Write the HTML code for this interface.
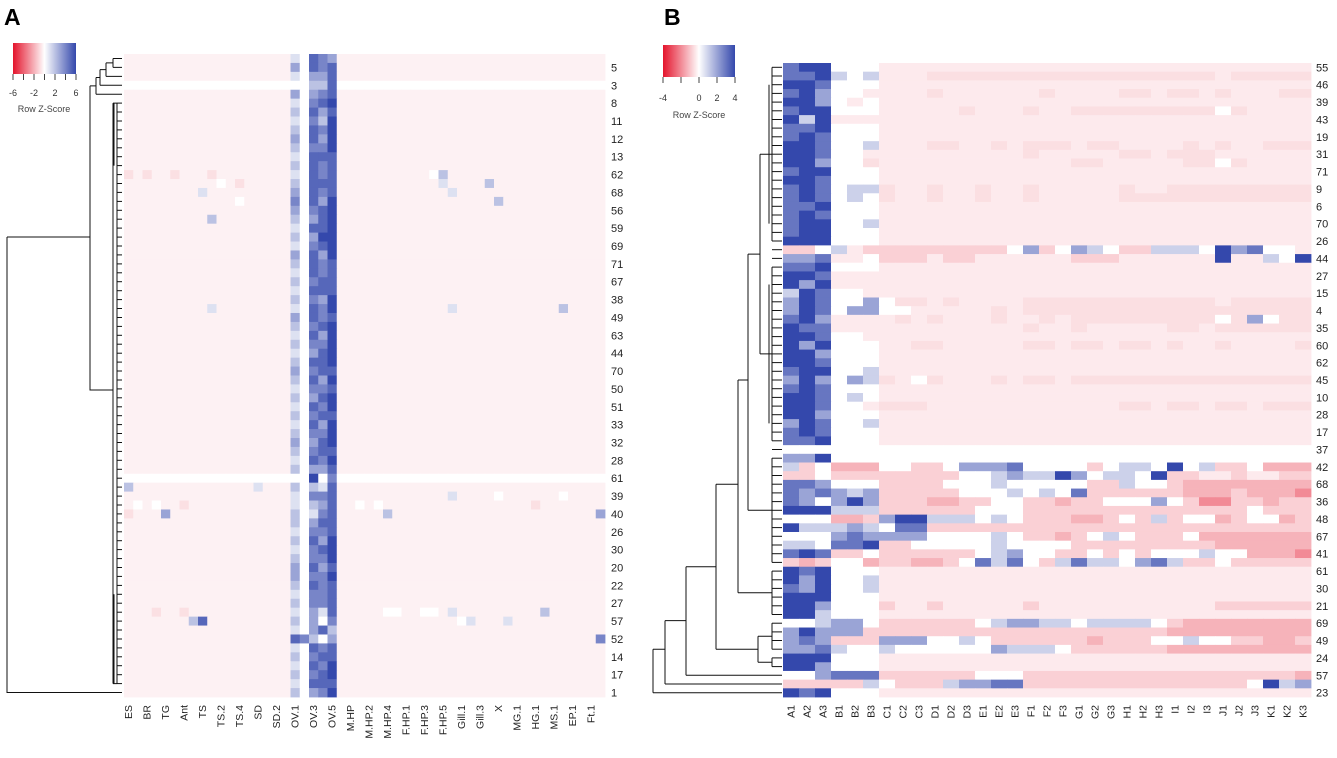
<!DOCTYPE html>
<html><head><meta charset="utf-8"><style>
html,body{margin:0;padding:0;background:#fff;}
svg{display:block;font-family:"Liberation Sans",Arial,sans-serif;}
</style></head><body>
<svg id="fig" width="1337" height="758" viewBox="0 0 1337 758" xmlns="http://www.w3.org/2000/svg">
<defs>
<linearGradient id="gz" x1="0" x2="1" y1="0" y2="0">
<stop offset="0" stop-color="#e4142c"/><stop offset="0.5" stop-color="#ffffff"/><stop offset="1" stop-color="#3448ac"/>
</linearGradient>
</defs>
<text x="4" y="25" font-size="23" font-weight="bold">A</text>
<text x="664" y="25" font-size="23" font-weight="bold">B</text>
<g>
<rect x="13" y="43" width="63" height="31" fill="url(#gz)"/>
<path d="M13 74V80M23.5 74V80M34 74V80M44.5 74V80M55 74V80M65.5 74V80M76 74V80" stroke="#444" stroke-width="1"/>
<text x="13" y="96" font-size="9" text-anchor="middle" fill="#333">-6</text>
<text x="34" y="96" font-size="9" text-anchor="middle" fill="#333">-2</text>
<text x="55" y="96" font-size="9" text-anchor="middle" fill="#333">2</text>
<text x="76" y="96" font-size="9" text-anchor="middle" fill="#333">6</text>
<text x="44" y="112" font-size="9" text-anchor="middle" fill="#444">Row Z-Score</text>
</g>
<g>
<rect x="663" y="45" width="72" height="32" fill="url(#gz)"/>
<path d="M663 77V83M681 77V83M699 77V83M717 77V83M735 77V83" stroke="#444" stroke-width="1"/>
<text x="663" y="101" font-size="9" text-anchor="middle" fill="#333">-4</text>
<text x="699" y="101" font-size="9" text-anchor="middle" fill="#333">0</text>
<text x="717" y="101" font-size="9" text-anchor="middle" fill="#333">2</text>
<text x="735" y="101" font-size="9" text-anchor="middle" fill="#333">4</text>
<text x="699" y="118" font-size="9" text-anchor="middle" fill="#444">Row Z-Score</text>
</g>
<g id="heatA"></g>
<g id="heatB"></g>
<g id="dendA"></g>
<g id="dendB"></g>
<g id="labs"></g>
</svg>
<script>
// ---- Panel A data ----
const aColLabels = ["ES","BR","TG","Ant","TS","TS.2","TS.4","SD","SD.2","OV.1","OV.3","OV.5","M.HP","M.HP.2","M.HP.4","F.HP.1","F.HP.3","F.HP.5","Gill.1","Gill.3","X","MG.1","HG.1","MS.1","EP.1","Ft.1"];
const aRowLabels = ["5","3","8","11","12","13","62","68","56","59","69","71","67","38","49","63","44","70","50","51","33","32","28","61","39","40","26","30","20","22","27","57","52","14","17","1"];
const aNumCols = 52;
const aOVStart = 18;
const aBaseCode = "o";
const aWhiteRows = [3,47];
const aOV = ["1w543","3w545","1w335","ww225","3w345","1w456","2w535","1w426","2w546","3w536","2w446","1w555","2w545","1w545","2w555","3w545","4w536","3w456","2w356","1w556","2w366","1w456","3w536","2w545","1w545","2w455","1w555","2w436","1w546","3w545","2w456","1w536","2w446","1w356","2w556","3w455","2w536","1w445","2w356","1w546","2w455","1w536","2w446","3w356","2w455","1w546","2w335","ww6w4","2w215","1w445","1w235","2w145","2w355","1w445","2w536","1w456","2w446","3w535","3w446","2w545","1w445","2w445","1w315","2w3w4","1w352","542w3","1w545","2w455","1w546","2w456","1w555","2w346"];
const aExtraRows = [13,13,13,13,14,14,13,13,14,14,15,15,16,16,18,28,28,28,48,48,49,49,49,50,50,50,50,50,50,51,51,51,51,62,62,62,62,62,62,62,62,63,63,63,63,63,65];
const aExtraCols = [0,2,5,9,10,12,33,34,34,39,8,35,12,40,9,9,35,47,0,14,35,47,40,1,3,6,25,27,44,0,4,28,51,32,33,35,28,29,3,6,45,7,8,37,41,36,51];
const aExtraVals = "ppppwpw21211w22112211wwwwpwwpp323ww1wwpp22511w4";
// ---- Panel B data ----
const bColLabels = ["A1","A2","A3","B1","B2","B3","C1","C2","C3","D1","D2","D3","E1","E2","E3","F1","F2","F3","G1","G2","G3","H1","H2","H3","I1","I2","I3","J1","J2","J3","K1","K2","K3"];
const bRowLabels = ["55","46","39","43","19","31","71","9","6","70","26","44","27","15","4","35","60","62","45","10","28","17","37","42","68","36","48","67","41","61","30","21","69","49","24","57","23"];
const bValues = [
"344 www ooo ooo ooo ooo ooo ooo ooo ooo ooo",
"334 1w1 ooo nnn nnn nnn nnn nnn nnn onn nnn",
"443 www ooo ooo ooo ooo ooo ooo ooo ooo ooo",
"342 wwo ooo noo ooo ono ooo nno nno noo onn",
"442 wow ooo ooo ooo ooo ooo ooo ooo ooo ooo",
"344 www ooo oon ooo noo nnn nnn nnn wno ooo",
"414 ooo ooo ooo ooo ooo ooo ooo ooo ooo ooo",
"334 www ooo ooo ooo ooo ooo ooo ooo ooo ooo",
"343 www ooo ooo ooo ooo ooo ooo ooo ooo ooo",
"443 ww1 ooo nno ono nnn onn ooo ono noo nnn",
"443 wwo ooo ooo ooo noo ooo nno nnn ooo ooo",
"442 wwn ooo ooo ooo ooo nno ooo onn wno ooo",
"344 www ooo ooo ooo ooo ooo ooo ooo ooo ooo",
"443 www ooo ooo ooo ooo ooo ooo ooo ooo ooo",
"343 w11 noo noo noo noo ooo noo nnn nnn nnn",
"343 w1w noo noo noo noo ooo nnn nnn nnn nnn",
"334 www ooo ooo ooo ooo ooo ooo ooo ooo ooo",
"343 www ooo ooo ooo ooo ooo ooo ooo ooo ooo",
"344 ww1 ooo ooo ooo ooo ooo ooo ooo ooo ooo",
"344 www ooo ooo ooo ooo ooo ooo ooo ooo ooo",
"444 www ooo ooo ooo ooo ooo ooo ooo ooo ooo",
"ppw 1op ppp ppp ppw 2pw 21w pp1 11w 423 wwo",
"223 oow ppp opp ooo ooo ppp ooo ooo 4oo 1w4",
"334 www ooo ooo ooo ooo ooo ooo ooo ooo ooo",
"443 ooo ooo ooo ooo ooo ooo ooo ooo ooo ooo",
"424 ooo ooo ooo ooo ooo ooo ooo ooo ooo ooo",
"143 wwo ooo ooo ooo ooo ooo ooo ooo ooo ooo",
"243 ww2 wnn ono ooo nnn nnn nnn nnn onn nnn",
"243 w22 wwo ooo ono nnn nnn nnn nnn nnn nnn",
"342 ooo ono noo ono ono nnn nnn nnn wn2 wnn",
"433 ooo ooo ooo ooo noo noo ooo nno nnn nnn",
"443 wwo ooo ooo ooo ooo ooo ooo ooo ooo ooo",
"424 www oon noo ooo nno nno nno noo noo oon",
"442 www ooo ooo ooo ooo ooo ooo ooo ooo ooo",
"443 www ooo ooo ooo ooo ooo ooo ooo ooo ooo",
"344 ww1 ooo ooo ooo ooo ooo ooo ooo ooo ooo",
"242 w21 now noo ono nno nnn nnn nnn nnn nnn",
"343 www ooo ooo ooo ooo ooo ooo ooo ooo ooo",
"443 w1w ooo ooo ooo ooo ooo ooo ooo ooo ooo",
"443 wwo nnn ooo ooo ooo ooo nno nno nno nnn",
"442 www ooo ooo ooo ooo ooo ooo ooo ooo ooo",
"243 ww1 ooo ooo ooo ooo ooo ooo ooo ooo ooo",
"343 www ooo ooo ooo ooo ooo ooo ooo ooo ooo",
"334 www ooo ooo ooo ooo ooo ooo ooo ooo ooo",
"www www www www www www www www www www www",
"224 www www www www www www www www www www",
"1pw qqq wwp pw2 223 www wpw 11w 4w1 ppw qqq",
"ppw ppp ppp ppw w12 114 2w1 1w4 ppo opo opp",
"332 www ppp pww w1w www wpp 1ww pqq qqq qqq",
"323 212 ppp ppw ww1 w1w 3pp ppp pqq qpq qqr",
"32w 242 ppp qqp pww ppq ppw ww2 wpr rpp qpp",
"444 111 ppp ppp www ppp ppp ppp ppp ppw ppp",
"www qqp 244 111 w1w ppp qqp wp1 pww qpw wqp",
"411 121 w33 ppp ppp ppp ppp ppp ppp ppp ppp",
"www 232 222 www w1w ppq pw1 wpp pwq qqq qqq",
"11w 334 ppw www w1w www ppp ppp ppp qqq qqq",
"343 ppw ppp ppp w12 wwp pwp wpw ww1 wwq qqr",
"pqp wwq ppq qpw 313 wp1 311 w23 1pp wpp ppp",
"434 www ooo ooo ooo ooo ooo ooo ooo ooo ooo",
"424 ww1 ooo ooo ooo ooo ooo ooo ooo ooo ooo",
"324 ww1 ooo ooo ooo ooo ooo ooo ooo ooo ooo",
"444 www ooo ooo ooo ooo ooo ooo ooo ooo ooo",
"442 www poo poo ooo poo ooo ooo ooo ppp ppp",
"441 www ooo ooo ooo ooo ooo ooo ooo ooo ooo",
"ww1 22w ppp ppp w12 211 w11 11w pqq qqq qqq",
"242 22p ppp ppp ppp ppp ppp ppp qqq qqq qqq",
"232 ppp 222 ww1 wpp ppp pqp ppw w1w wpp qqp",
"223 1ww 1ww www w21 11w ppp ppp qqq qqq qqq",
"444 www ooo ooo ooo ooo ooo ooo ooo ooo ooo",
"442 www ooo ooo ooo ooo ooo ooo ooo ooo ooo",
"ww2 333 ppp ppp www ppp ppp ppp ppp ppp ppq",
"ppp pp1 wpp p12 233 ppp ppp ppp ppp ppw 412",
"434 www ooo ooo ooo ooo ooo ooo ooo ooo ooo"
];
const codeValues = {r:-2,q:-1.3,p:-0.8,n:-0.55,o:-0.35,w:0,"1":1,"2":2,"3":3,"4":4,"5":5,"6":6};

const NS="http://www.w3.org/2000/svg";
function mk(tag,attrs,parent){const e=document.createElementNS(NS,tag);for(const k in attrs)e.setAttribute(k,attrs[k]);parent.appendChild(e);return e;}
function color(v,max){if(typeof v!=="number"||isNaN(v))v=0;let t=Math.max(-1,Math.min(1,v/max));let r,g,b;
 if(t<0){t=-t;r=255+(228-255)*t;g=255+(20-255)*t;b=255+(44-255)*t;}
 else{r=255+(52-255)*t;g=255+(72-255)*t;b=255+(172-255)*t;}
 return "rgb("+Math.round(r)+","+Math.round(g)+","+Math.round(b)+")";}

const aRows=aOV.length, aX0=124, aX1=605, aY0=54, aY1=697;
const aCW=(aX1-aX0)/aNumCols, aRH=(aY1-aY0)/aRows;
const xA=c=>aX0+c*aCW, yA=r=>aY0+r*aRH;
const bRows=bValues.length, bX0=783, bX1=1311, bY0=63, bY1=697;
const bCW=(bX1-bX0)/bColLabels.length, bRH=(bY1-bY0)/bRows;
const xB=c=>bX0+c*bCW, yB=r=>bY0+r*bRH;

const gA=document.getElementById("heatA");
const aGrid=[];
for(let r=0;r<aRows;r++){const base=codeValues[aWhiteRows.includes(r)?"w":aBaseCode];aGrid.push([]);
 for(let c=0;c<aNumCols;c++)aGrid[r].push(base);
 for(let k=0;k<5;k++)aGrid[r][aOVStart+k]=codeValues[aOV[r][k]];}
for(let i=0;i<aExtraRows.length;i++)aGrid[aExtraRows[i]][aExtraCols[i]]=codeValues[aExtraVals[i]];
for(let r=0;r<aRows;r++)for(let c=0;c<aNumCols;c++){
 const e=mk("rect",{x:xA(c).toFixed(2),y:yA(r).toFixed(2),width:(aCW+0.4).toFixed(2),height:(aRH+0.4).toFixed(2),fill:color(aGrid[r][c],6)},gA);
 
 
}
const gB=document.getElementById("heatB");
for(let r=0;r<bRows;r++){const s=bValues[r].replace(/ /g,"");
 for(let c=0;c<bColLabels.length;c++){
  const e=mk("rect",{x:xB(c).toFixed(2),y:yB(r).toFixed(2),width:(bCW+0.4).toFixed(2),height:(bRH+0.4).toFixed(2),fill:color(codeValues[s[c]],4)},gB);
  
  
 }}

const gL=document.getElementById("labs");
aRowLabels.forEach((t,k)=>{const e=mk("text",{x:611,y:(yA(2*k+1)+aRH/2+4).toFixed(1),"font-size":"11",fill:"#222"},gL);e.textContent=t;
 
 });
bRowLabels.forEach((t,k)=>{const e=mk("text",{x:1316,y:(yB(2*k)+bRH/2+4).toFixed(1),"font-size":"11",fill:"#222"},gL);e.textContent=t;
 
 });
aColLabels.forEach((t,k)=>{const x=xA(2*k)+aCW/2;
 const e=mk("text",{transform:"translate("+(x+3.5).toFixed(1)+",705) rotate(-90)","text-anchor":"end","font-size":"10.5",fill:"#222"},gL);e.textContent=t;
 
 });
bColLabels.forEach((t,k)=>{const x=xB(k)+bCW/2;
 const e=mk("text",{transform:"translate("+(x+3.5).toFixed(1)+",705) rotate(-90)","text-anchor":"end","font-size":"10.5",fill:"#222"},gL);e.textContent=t;
 
 });

function line(g,d){const e=mk("path",{d:d,stroke:"#111","stroke-width":"1",fill:"none"},g);
 
 }
const gDA=document.getElementById("dendA");
const cyA=r=>yA(r)+aRH/2;
line(gDA,"M113 "+cyA(0)+"V"+cyA(1)+"M113 "+cyA(0)+"H122M113 "+cyA(1)+"H122");
const n1=(cyA(0)+cyA(1))/2;
line(gDA,"M106 "+n1+"V"+cyA(2)+"M106 "+n1+"H113M106 "+cyA(2)+"H122");
const n2=(n1+cyA(2))/2;
line(gDA,"M100 "+n2+"V"+cyA(3)+"M100 "+n2+"H106M100 "+cyA(3)+"H122");
const n3=(n2+cyA(3))/2;
line(gDA,"M96 "+n3+"V"+cyA(4)+"M96 "+n3+"H100M96 "+cyA(4)+"H122");
const n4=(n3+cyA(4))/2;
line(gDA,"M90 "+n4+"V390H113M90 "+n4+"H96");
line(gDA,"M7 237H90M7 237V"+cyA(71)+"H122");
line(gDA,"M113 "+cyA(5)+"V"+cyA(70)+"M113 "+cyA(5)+"H117M113 "+cyA(70)+"H117");
line(gDA,"M117 "+cyA(5)+"V"+cyA(70));
for(let r=5;r<71;r++)line(gDA,"M117 "+cyA(r).toFixed(1)+"H122");
line(gDA,"M114 "+cyA(5)+"V"+cyA(12)+"M114 "+cyA(60)+"V"+cyA(70));

const gDB=document.getElementById("dendB");
const cyB=r=>yB(r)+bRH/2;
function br(x,r1,r2,x1,x2){line(gDB,"M"+x+" "+cyB(r1).toFixed(1)+"V"+cyB(r2).toFixed(1)+"M"+x+" "+cyB(r1).toFixed(1)+"H"+x1+"M"+x+" "+cyB(r2).toFixed(1)+"H"+x2);}
for(let r=0;r<70;r++)line(gDB,"M772 "+cyB(r).toFixed(1)+"H782");
line(gDB,"M772 "+cyB(0)+"V"+cyB(20)+"M772 "+cyB(23)+"V"+cyB(43)+"M772 "+cyB(45)+"V"+cyB(57)+"M772 "+cyB(58)+"V"+cyB(63)+"M772 "+cyB(64)+"V"+cyB(67)+"M772 "+cyB(68)+"V"+cyB(69));
line(gDB,"M769 "+cyB(2)+"V"+cyB(18)+"M769 "+cyB(25)+"V"+cyB(41));
br(760,10,33,772,772);
br(748,21.5,51,760,772);
br(738,36,60.5,748,772);
br(758,65.5,68.5,772,772);
br(716,48,67,738,758);
br(686,57.5,70,716,782);
br(665,63.7,71,686,782);
br(653,67,72,665,782);
</script>
</body></html>
